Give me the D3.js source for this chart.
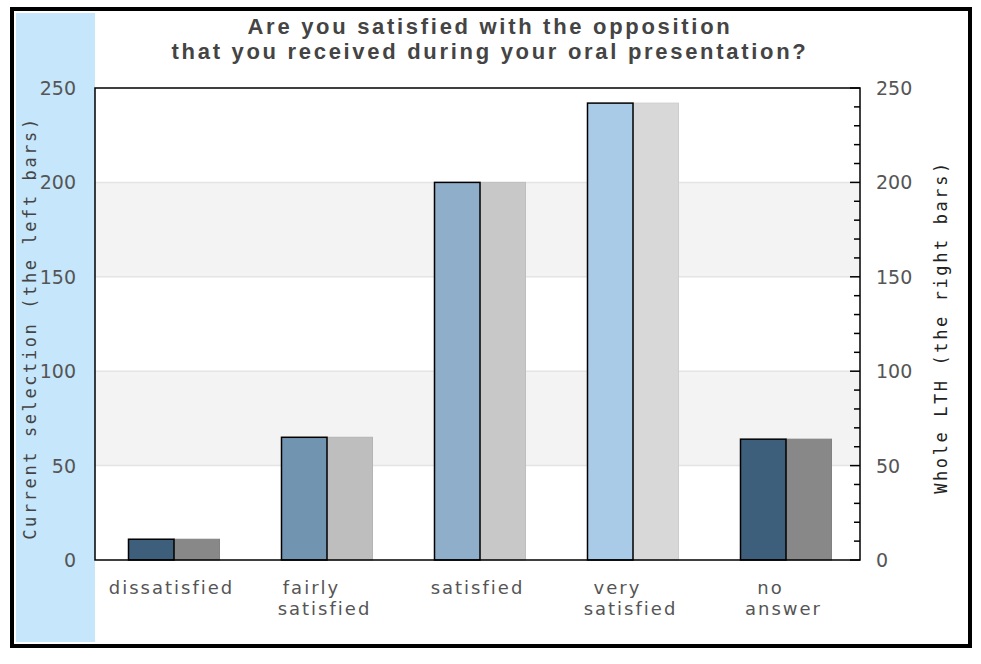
<!DOCTYPE html>
<html><head><meta charset="utf-8">
<script src="https://cdn.jsdelivr.net/npm/d3@7"></script>
<style>body{margin:0;background:#fff}svg{display:block}</style>
</head><body>
<svg id="c" width="981" height="664"></svg>
<script>
const categories = ["dissatisfied", "fairly satisfied", "satisfied", "very satisfied", "no answer"];
const labelLines = [["dissatisfied"], ["fairly", "satisfied"], ["satisfied"], ["very", "satisfied"], ["no", "answer"]];
const currentSelection = [11, 65, 200, 242, 64];
const wholeLTH = [11, 65, 200, 242, 64];
const leftColors = ["#3e5f7b", "#7194b0", "#8eaeca", "#a9cbe7", "#3e5f7b"];
const rightColors = ["#888888", "#bebebe", "#c8c8c8", "#d8d8d8", "#888888"];
const yTicks = [0, 50, 100, 150, 200, 250];
const titleLines = ["Are you satisfied with the opposition", "that you received during your oral presentation?"];
const leftTitle = "Current selection (the left bars)";
const rightTitle = "Whole LTH (the right bars)";

const svg = d3.select("#c");
const m = {l: 95, r: 860, t: 88, b: 560};

// outer frame and blue band
svg.append("rect").attr("x", 12).attr("y", 9).attr("width", 958).attr("height", 637)
  .attr("fill", "#fff").attr("stroke", "#000").attr("stroke-width", 4);
svg.append("rect").attr("x", 16).attr("y", 13).attr("width", 79).attr("height", 629).attr("fill", "#c6e6fb");

const y = d3.scaleLinear().domain([0, 250]).range([m.b, m.t]);
const x = d3.scaleBand().domain(categories).range([m.l, m.r]);

// background bands
const bands = [[50, 100], [150, 200]];
svg.append("g").selectAll("rect").data(bands).join("rect")
  .attr("x", m.l).attr("width", m.r - m.l)
  .attr("y", d => y(d[1])).attr("height", d => y(d[0]) - y(d[1]))
  .attr("fill", "#f3f3f3");
svg.append("g").selectAll("line").data(yTicks.slice(1, -1)).join("line")
  .attr("x1", m.l).attr("x2", m.r).attr("y1", d => y(d)).attr("y2", d => y(d))
  .attr("stroke", "#e4e4e4").attr("stroke-width", 1.5);

const bw = 45.5;
const center = c => x(c) + x.bandwidth() / 2 + 2.5;
// right (gray) bars
svg.append("g").selectAll("rect").data(categories).join("rect")
  .attr("x", c => center(c)).attr("width", bw)
  .attr("y", (c, i) => y(wholeLTH[i])).attr("height", (c, i) => y(0) - y(wholeLTH[i]))
  .attr("fill", (c, i) => rightColors[i]).attr("stroke", (c, i) => d3.color(rightColors[i]).darker(0.15)).attr("stroke-width", 1);
// left bars
svg.append("g").selectAll("rect").data(categories).join("rect")
  .attr("x", c => center(c) - bw).attr("width", bw)
  .attr("y", (c, i) => y(currentSelection[i])).attr("height", (c, i) => y(0) - y(currentSelection[i]))
  .attr("fill", (c, i) => leftColors[i]).attr("stroke", "#000").attr("stroke-width", 1.5);

// plot frame
svg.append("rect").attr("x", m.l).attr("y", m.t).attr("width", m.r - m.l).attr("height", m.b - m.t)
  .attr("fill", "none").attr("stroke", "#000").attr("stroke-width", 1.5);

// right axis ticks (inward)
const rAxis = svg.append("g").attr("transform", `translate(${m.r},0)`);
rAxis.selectAll("line").data(d3.range(0, 251, 10)).join("line")
  .attr("x1", d => d % 50 === 0 ? -10 : -6).attr("x2", 0)
  .attr("y1", d => y(d)).attr("y2", d => y(d)).attr("stroke", "#000").attr("stroke-width", 1.5);

const tickFont = "'DejaVu Sans', sans-serif";
svg.append("g").selectAll("text").data(yTicks).join("text")
  .attr("x", 76).attr("y", d => y(d) + 7).attr("text-anchor", "end")
  .attr("font-family", tickFont).attr("font-size", 19).attr("fill", "#555").text(d => d);
svg.append("g").selectAll("text").data(yTicks).join("text")
  .attr("x", 876).attr("y", d => y(d) + 7).attr("text-anchor", "start")
  .attr("font-family", tickFont).attr("font-size", 19).attr("fill", "#555").text(d => d);

// x labels
const xl = svg.append("g");
categories.forEach((c, i) => {
  const lines = labelLines[i];
  lines.forEach((ln, j) => {
    xl.append("text").attr("x", x(c) + x.bandwidth() / 2 + (lines.length > 1 && j === 0 ? -13 : 0))
      .attr("y", 594 + j * 21).attr("text-anchor", "middle")
      .attr("font-family", tickFont).attr("font-size", 18).attr("letter-spacing", 2)
      .attr("fill", "#555").text(ln);
  });
});

// title
svg.append("g").selectAll("text").data(titleLines).join("text")
  .attr("x", 490).attr("y", (d, i) => 34 + i * 24.5).attr("text-anchor", "middle")
  .attr("font-family", "'Liberation Sans', Arial, sans-serif").attr("font-weight", "bold")
  .attr("font-size", 22).attr("letter-spacing", 2.7).attr("fill", "#444").text(d => d);

// axis titles
const monoFont = "'DejaVu Sans Mono', monospace";
svg.append("text").attr("transform", `translate(36,${(m.t + m.b) / 2 + 4}) rotate(-90)`)
  .attr("text-anchor", "middle").attr("font-family", monoFont).attr("font-size", 17)
  .attr("letter-spacing", 2.6).attr("fill", "#444").text(leftTitle);
svg.append("text").attr("transform", `translate(947,${(m.t + m.b) / 2 + 3}) rotate(-90)`)
  .attr("text-anchor", "middle").attr("font-family", monoFont).attr("font-size", 17)
  .attr("letter-spacing", 2.6).attr("fill", "#222").text(rightTitle);
</script>
</body></html>
